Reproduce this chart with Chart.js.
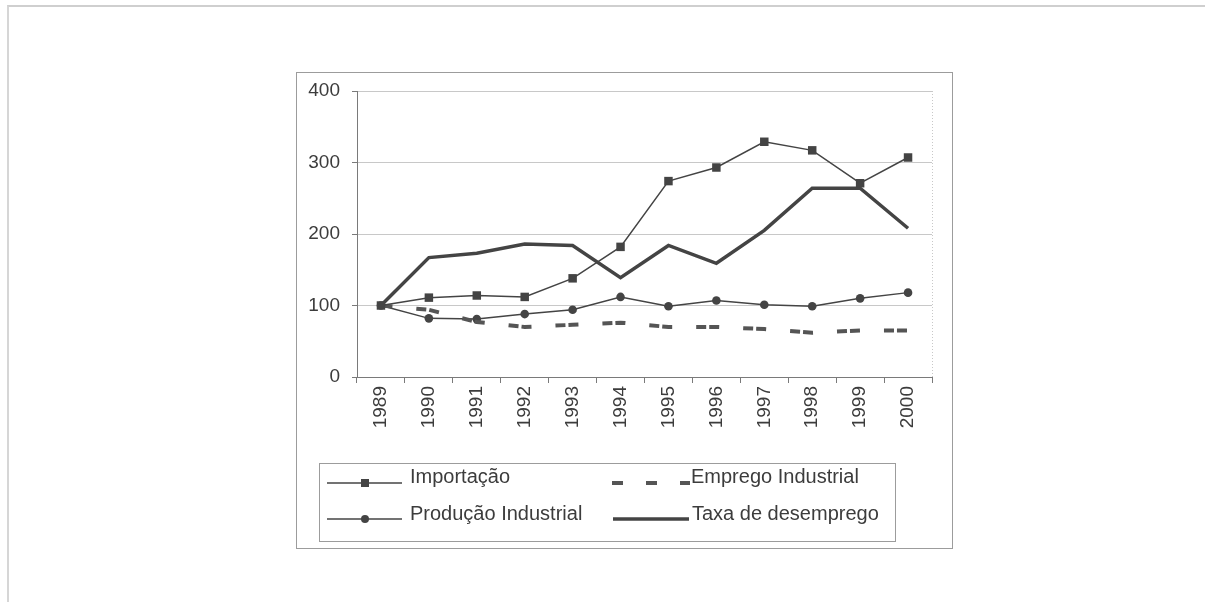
<!DOCTYPE html>
<html lang="pt">
<head>
    <meta charset="UTF-8">
    <title>Importação, emprego e produção industrial - 1989 = 100</title>
    <script src="https://cdn.jsdelivr.net/npm/chart.js"></script>
    <style>
        body {
            margin: 0;
            background: #fff;
            width: 1205px;
            height: 602px;
            overflow: hidden;
            font-family: "Liberation Sans", Arial, sans-serif;
        }
        /* moldura da página escaneada */
        .pagina {
            position: absolute;
            left: 7px;
            top: 5px;
            width: 1300px;
            height: 700px;
            border-top: 2px solid #cfcfcf;
            border-left: 2px solid #d6d6d6;
        }
        .quadro {
            position: absolute;
            left: 296px;
            top: 72px;
            width: 655px;
            height: 475px;
            border: 1px solid #9c9c9c;
        }
    </style>
</head>
<body>
    <div class="pagina"></div>
    <div class="quadro">
        <canvas id="grafico"></canvas>
    </div>

    <script>
        const anos = ['1989', '1990', '1991', '1992', '1993', '1994', '1995', '1996', '1997', '1998', '1999', '2000'];

        const importacao = [100, 111, 114, 112, 138, 182, 274, 293, 329, 317, 271, 307];
        const empregoIndustrial = [100, 94, 77, 70, 73, 76, 70, 70, 67, 62, 65, 65];
        const producaoIndustrial = [100, 82, 81, 88, 94, 112, 99, 107, 101, 99, 110, 118];
        const taxaDesemprego = [100, 167, 173, 186, 184, 139, 184, 159, 205, 264, 264, 208];

        const yTicks = [0, 100, 200, 300, 400];

        const cinza = '#444';
        const texto = '#3c3c3c';

        // legenda desenhada à mão, com caixa em duas colunas
        const legenda = {
            id: 'legenda',
            afterDraw(chart) {
                const ctx = chart.ctx;
                const area = chart.chartArea;
                ctx.save();

                // borda direita pontilhada da área do gráfico
                ctx.strokeStyle = '#c8c8c8';
                ctx.lineWidth = 1;
                ctx.setLineDash([1, 2]);
                ctx.beginPath();
                ctx.moveTo(area.right + 0.5, area.top);
                ctx.lineTo(area.right + 0.5, area.bottom);
                ctx.stroke();
                ctx.setLineDash([]);

                ctx.strokeStyle = '#9c9c9c';
                ctx.strokeRect(22.5, 390.5, 576, 78);

                const ds = chart.data.datasets;
                ctx.font = '20px "Liberation Sans", Arial, sans-serif';
                ctx.fillStyle = texto;
                ctx.textBaseline = 'alphabetic';

                // Importação
                ctx.strokeStyle = cinza;
                ctx.lineWidth = 1.5;
                ctx.beginPath();
                ctx.moveTo(30, 410);
                ctx.lineTo(105, 410);
                ctx.stroke();
                ctx.fillStyle = cinza;
                ctx.fillRect(64, 406, 8, 8);
                ctx.fillStyle = texto;
                ctx.fillText(ds[0].label, 113, 410);

                // Emprego Industrial
                ctx.fillStyle = '#555';
                ctx.fillRect(315, 408, 11, 4);
                ctx.fillRect(349, 408, 11, 4);
                ctx.fillRect(383, 408, 10, 4);
                ctx.fillStyle = texto;
                ctx.fillText(ds[1].label, 394, 410);

                // Produção Industrial
                ctx.strokeStyle = cinza;
                ctx.lineWidth = 1.5;
                ctx.beginPath();
                ctx.moveTo(30, 446);
                ctx.lineTo(105, 446);
                ctx.stroke();
                ctx.fillStyle = cinza;
                ctx.beginPath();
                ctx.arc(68, 446, 4, 0, Math.PI * 2);
                ctx.fill();
                ctx.fillStyle = texto;
                ctx.fillText(ds[2].label, 113, 447);

                // Taxa de desemprego
                ctx.strokeStyle = cinza;
                ctx.lineWidth = 3.5;
                ctx.beginPath();
                ctx.moveTo(316, 446);
                ctx.lineTo(392, 446);
                ctx.stroke();
                ctx.fillText(ds[3].label, 395, 447);

                ctx.restore();
            }
        };

        const grafico = new Chart(document.getElementById('grafico'), {
            type: 'line',
            data: {
                labels: anos,
                datasets: [
                    {
                        label: 'Importação',
                        data: importacao,
                        borderColor: cinza,
                        backgroundColor: cinza,
                        borderWidth: 1.5,
                        pointStyle: 'rect',
                        pointRadius: 6,
                        pointBorderWidth: 0
                    },
                    {
                        label: 'Emprego Industrial',
                        data: empregoIndustrial,
                        borderColor: '#555',
                        borderWidth: 4,
                        borderDash: [10, 3, 10, 24],
                        borderDashOffset: 11.5,
                        pointRadius: 0
                    },
                    {
                        label: 'Produção Industrial',
                        data: producaoIndustrial,
                        borderColor: cinza,
                        backgroundColor: cinza,
                        borderWidth: 1.5,
                        pointStyle: 'circle',
                        pointRadius: 4.3,
                        pointBorderWidth: 0
                    },
                    {
                        label: 'Taxa de desemprego',
                        data: taxaDesemprego,
                        borderColor: cinza,
                        borderWidth: 3.5,
                        pointRadius: 0
                    }
                ]
            },
            options: {
                responsive: true,
                maintainAspectRatio: false,
                animation: false,
                layout: {
                    padding: { top: 18, right: 20, bottom: 111, left: 0 }
                },
                plugins: {
                    legend: { display: false },
                    tooltip: { enabled: false }
                },
                scales: {
                    x: {
                        offset: true,
                        afterFit: s => { s.height = 60; },
                        grid: {
                            offset: true,
                            drawOnChartArea: false,
                            tickLength: 6,
                            color: '#7a7a7a'
                        },
                        border: { color: '#7a7a7a' },
                        ticks: {
                            minRotation: 90,
                            maxRotation: 90,
                            padding: 3,
                            color: texto,
                            font: { family: '"Liberation Sans", Arial, sans-serif', size: 19 }
                        }
                    },
                    y: {
                        min: 0,
                        max: 400,
                        afterFit: s => {
                            s.width = 60;
                            s.paddingTop = 0;
                            s.paddingBottom = 0;
                        },
                        afterBuildTicks: s => { s.ticks = yTicks.map(v => ({ value: v })); },
                        grid: {
                            color: '#c8c8c8',
                            borderDash: [1, 2],
                            tickLength: 5,
                            tickColor: '#7a7a7a',
                            tickBorderDash: []
                        },
                        border: { color: '#7a7a7a' },
                        ticks: {
                            padding: 12,
                            color: texto,
                            font: { family: '"Liberation Sans", Arial, sans-serif', size: 19 }
                        }
                    }
                }
            },
            plugins: [legenda]
        });
    </script>
</body>
</html>
